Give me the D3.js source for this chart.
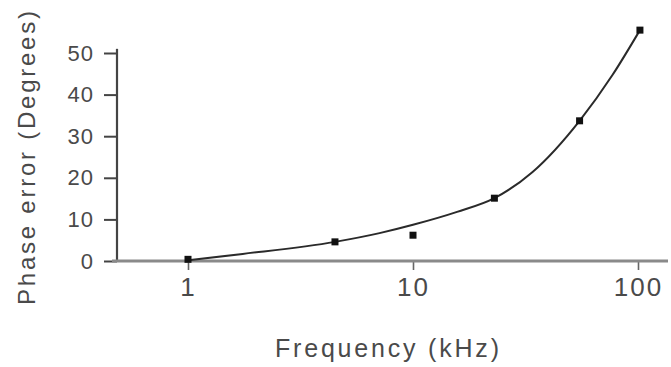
<!DOCTYPE html>
<html>
<head>
<meta charset="utf-8">
<script src="https://cdn.jsdelivr.net/npm/d3@7/dist/d3.min.js"></script>
<style>
  html, body { margin: 0; padding: 0; background: #fff; }
  svg { display: block; }
  text { font-family: "Liberation Sans", Arial, sans-serif; fill: #4a4a4a; }
</style>
</head>
<body>
<script>
// Measured phase error versus frequency
const measFreq  = [1, 4.5, 10, 23, 55, 102];
const measPhase = [0.4, 4.6, 6.2, 15.1, 33.7, 55.5];

// Smooth fitted curve through the measurements
const fitFreq  = [1, 1.75, 4.5, 7.1, 10, 15.7, 23, 34, 55, 77, 102];
const fitPhase = [0.2, 1.7, 4.6, 6.7, 8.7, 11.8, 15.1, 21.4, 33.7, 44.7, 55.5];

const xTicks = [1, 10, 100];
const xTickLabels = ["1", "10", "100"];
const yTicks = [0, 10, 20, 30, 40, 50];

const W = 671, H = 367;
const svg = d3.select("body").append("svg").attr("width", W).attr("height", H);

const x = d3.scaleLog().domain([1, 100]).range([188, 638]);
const y = d3.scaleLinear().domain([0, 50]).range([261, 53]);

// Y axis
const yAxis = d3.axisLeft(y).tickValues(yTicks).tickSize(13).tickSizeOuter(0).tickPadding(10);
const gy = svg.append("g").attr("transform", "translate(117,0)").call(yAxis);
gy.select(".domain").attr("stroke", "#444").attr("stroke-width", 2.2)
  .attr("d", `M0,${y(0)}V${y(51)}`);
gy.selectAll(".tick line").attr("stroke", "#444").attr("stroke-width", 2);
gy.selectAll(".tick text").style("font-size", "22px").attr("fill", "#4a4a4a")
  .style("letter-spacing", "1px");

// X axis
const xAxis = d3.axisBottom(x).tickValues(xTicks)
  .tickFormat((d, i) => xTickLabels[i]).tickSize(9).tickSizeOuter(0).tickPadding(8);
const gx = svg.append("g").attr("transform", `translate(0,${y(0)})`).call(xAxis);
gx.select(".domain").remove();
gx.selectAll(".tick line").attr("stroke", "#666").attr("stroke-width", 1.6);
gx.selectAll(".tick text").style("font-size", "26px").attr("fill", "#4a4a4a")
  .style("letter-spacing", "2px");
gx.append("line").attr("x1", 112).attr("x2", 668).attr("y1", 0).attr("y2", 0)
  .attr("stroke", "#8a8a8a").attr("stroke-width", 3);

// Fitted curve
const pts = fitFreq.map((f, i) => [f, fitPhase[i]]);
const line = d3.line().x(d => x(d[0])).y(d => y(d[1])).curve(d3.curveMonotoneX);
svg.append("path").datum(pts).attr("d", line)
  .attr("fill", "none").attr("stroke", "#2a2a2a").attr("stroke-width", 2);

// Measured points
svg.selectAll("rect.pt").data(measFreq).join("rect").attr("class", "pt")
  .attr("x", d => x(d) - 3.5).attr("y", (d, i) => y(measPhase[i]) - 3.5)
  .attr("width", 7).attr("height", 7).attr("fill", "#111");

// Axis titles
svg.append("text").attr("x", 387).attr("y", 357).attr("text-anchor", "middle")
  .attr("textLength", 224).attr("lengthAdjust", "spacing")
  .style("font-size", "25px").text("Frequency (kHz)");

svg.append("text").attr("transform", "translate(35,158) rotate(-90)")
  .attr("text-anchor", "middle").attr("textLength", 294).attr("lengthAdjust", "spacing")
  .style("font-size", "24px").text("Phase error (Degrees)");
</script>
</body>
</html>
